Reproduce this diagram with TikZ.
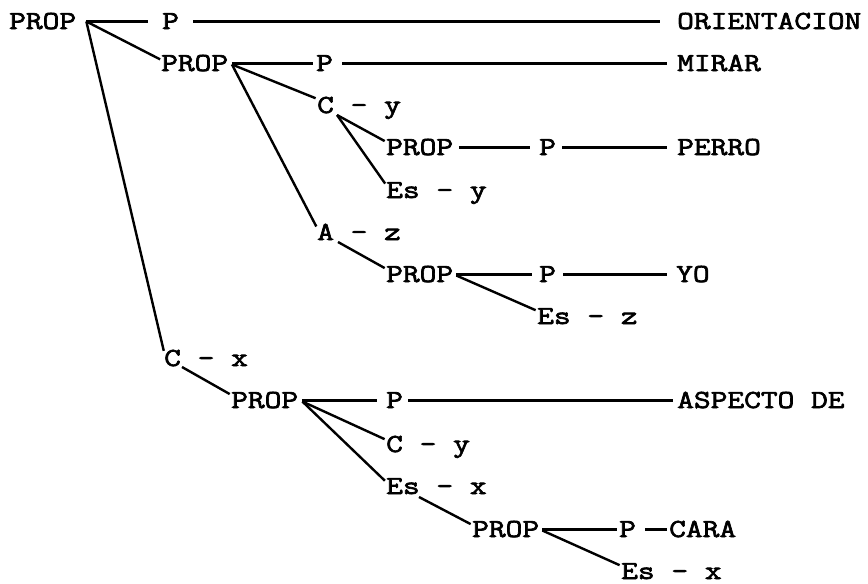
\documentclass[tikz,border=0pt]{standalone}
\usepackage{fontspec}
% widened, emboldened typewriter face
\newfontfamily\typewriter{Latin Modern Mono}[FakeStretch=1.25, FakeBold=2.6]
\begin{document}
\begin{tikzpicture}[x=1pt,y=-1pt,
  lbl/.style={font=\typewriter\fontsize{26}{28}\selectfont,
              inner sep=0pt, text height=15pt, text depth=0pt, anchor=base west},
  link/.style={line width=2.4pt},
  gp/.style 2 args={shorten <=#1pt, shorten >=#2pt}]
\useasboundingbox (0,0) rectangle (868,584);

% labels
\node[lbl] (n0)   at (9,29)    {PROP};
\node[lbl] (n0p)  at (162,29)  {P};
\node[lbl] (n0o)  at (677,29)  {ORIENTACION};
\node[lbl] (n1)   at (161,71)  {PROP};
\node[lbl] (n1p)  at (316,71)  {P};
\node[lbl] (n1o)  at (677,71)  {MIRAR};
\node[lbl] (n2)   at (317,113) {C - y};
\node[lbl] (n3)   at (386,155) {PROP};
\node[lbl] (n3p)  at (539,155) {P};
\node[lbl] (n3o)  at (677,155) {PERRO};
\node[lbl] (n4)   at (386,198) {Es - y};
\node[lbl] (n5)   at (317,240) {A - z};
\node[lbl] (n6)   at (386,282) {PROP};
\node[lbl] (n6p)  at (539,282) {P};
\node[lbl] (n6o)  at (676,282) {YO};
\node[lbl] (n7)   at (537,324) {Es - z};
\node[lbl] (n8)   at (164,366) {C - x};
\node[lbl] (n9)   at (231,408) {PROP};
\node[lbl] (n9p)  at (386,408) {P};
\node[lbl] (n9o)  at (677,408) {ASPECTO DE};
\node[lbl] (n10)  at (386,452) {C - y};
\node[lbl] (n11)  at (386,494) {Es - x};
\node[lbl] (n12)  at (472,537) {PROP};
\node[lbl] (n12p) at (619,537) {P};
\node[lbl] (n12o) at (669,537) {CARA};
\node[lbl] (n13)  at (621,579) {Es - x};

% top level
\draw[link,gp={10}{14}] (n0.east) -- (n0p.west);
\draw[link,gp={14}{17}] (n0p.east) -- (n0o.west);
\draw[link,shorten >=1pt] ([xshift=10pt]n0.east) -- ([yshift=-4pt]n1.north west);
\draw[link,shorten >=1pt] ([xshift=10pt]n0.east) -- ([yshift=-1pt]n8.north west);

% MIRAR branch
\draw[link,gp={3.6}{3}] (n1.east) -- (n1p.west);
\draw[link,gp={9}{10}] (n1p.east) -- (n1o.west);
\draw[link,shorten >=1.5pt] ([xshift=3.6pt,yshift=-1pt]n1.east) -- ([yshift=-1pt]n2.north west);
\draw[link,shorten >=1.5pt] ([xshift=3.6pt,yshift=-1pt]n1.east) -- ([yshift=-3pt]n5.north west);

\draw[link,shorten >=1.5pt] ([xshift=20pt,yshift=-2pt]n2.base west) -- ([yshift=-2pt]n3.north west);
\draw[link,shorten >=1.5pt] ([xshift=20pt,yshift=-2pt]n2.base west) -- ([yshift=-2pt]n4.north west);
\draw[link,gp={5.6}{9}] (n3.east) -- (n3p.west);
\draw[link,gp={6}{10}] (n3p.east) -- (n3o.west);

\draw[link,shorten >=1.5pt] ([xshift=21pt,yshift=-2pt]n5.base west) -- ([yshift=-2pt]n6.north west);
\draw[link,gp={3}{7}] (n6.east) -- (n6p.west);
\draw[link,gp={7}{9}] (n6p.east) -- (n6o.west);
\draw[link,shorten >=1.5pt] ([xshift=3pt,yshift=-1pt]n6.east) -- ([yshift=-2pt]n7.north west);

% ASPECTO DE branch
\draw[link,shorten >=1.5pt] ([xshift=18pt,yshift=-1pt]n8.base west) -- ([yshift=-2pt]n9.north west);
\draw[link,gp={4}{9}] (n9.east) -- (n9p.west);
\draw[link,gp={5}{4}] (n9p.east) -- (n9o.west);
\draw[link,shorten >=1.5pt] ([xshift=4pt,yshift=-1pt]n9.east) -- ([yshift=-3pt]n10.north west);
\draw[link,shorten >=1.5pt] ([xshift=4pt,yshift=-1pt]n9.east) -- ([yshift=-3pt]n11.north west);

\draw[link,shorten >=1.5pt] ([xshift=33pt,yshift=-3pt]n11.base west) -- ([yshift=-3pt]n12.north west);
\draw[link,gp={3}{2}] (n12.east) -- (n12p.west);
\draw[link,gp={9}{2}] (n12p.east) -- (n12o.west);
\draw[link,shorten >=1.5pt] ([xshift=3pt,yshift=-1pt]n12.east) -- ([yshift=-2pt]n13.north west);
\end{tikzpicture}
\end{document}
